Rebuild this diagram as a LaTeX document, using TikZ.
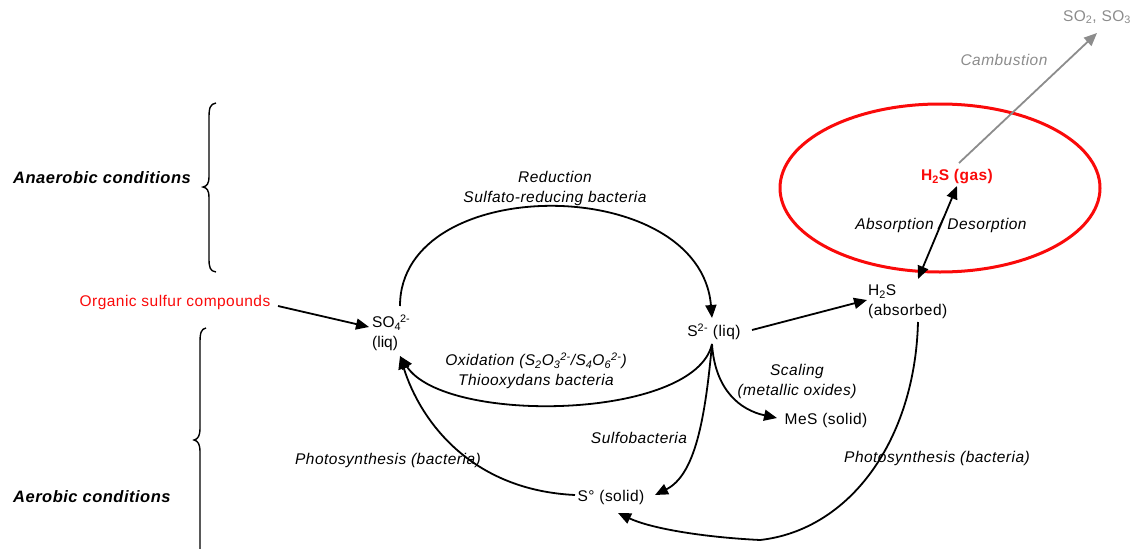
\documentclass[tikz,border=0pt]{standalone}
\usepackage{fontspec}
\setmainfont[LetterSpace=3]{Liberation Sans}
\usetikzlibrary{arrows.meta}
\definecolor{sred}{RGB}{250,10,10}
\definecolor{sgray}{RGB}{140,140,140}

\begin{document}
\begin{tikzpicture}[x=1pt,y=-1pt,
  txt/.style={inner sep=0pt, align=center, font=\fontsize{15.5}{20}\selectfont},
  itl/.style={txt, font=\fontsize{15.5}{20}\selectfont\itshape},
  cond/.style={txt, anchor=west, font=\fontsize{16.5}{20}\selectfont\bfseries\itshape},
  flow/.style={line width=1.8pt, -{Triangle[length=13pt,width=11pt]}},
  both/.style={line width=1.8pt, {Triangle[length=13pt,width=11pt]}-{Triangle[length=13pt,width=11pt]}},
  brace/.style={line width=1.4pt},
]
\useasboundingbox (0,0) rectangle (1136,549);

% condition labels and braces
\node[cond] (anaer) at (13,178) {Anaerobic conditions};
\node[cond] (aer) at (13,497) {Aerobic conditions};
\draw[brace] (216,103) .. controls (210,104) and (209,108) .. (209,118) -- (209,176)
  .. controls (209,184) and (207,186) .. (203,187) .. controls (207,188) and (209,190) .. (209,198)
  -- (209,258) .. controls (209,268) and (210,271) .. (216,272);
\draw[brace] (206,328) .. controls (201,329) and (200,333) .. (200,343) -- (200,428)
  .. controls (200,436) and (198,439) .. (194,440) .. controls (198,441) and (200,444) .. (200,452)
  -- (200,549);

% species
\node[txt, text=sred] (org) at (175,302) {Organic sulfur compounds};
\node[txt, align=left, anchor=west, font=\fontsize{15.5}{20}\selectfont\addfontfeature{LetterSpace=0}] (so4) at (372,333)
  {SO\textsubscript{4}\kern-1pt\textsuperscript{2-}\\(liq)};
\node[txt] (s2) at (714,332) {S\textsuperscript{2-} (liq)};
\node[txt, align=left, anchor=west] (h2sabs) at (868,302) {H\textsubscript{2}S\\(absorbed)};
\node[txt, text=sred, font=\fontsize{15.5}{20}\selectfont\bfseries] (h2sgas) at (957,177) {H\textsubscript{2}S (gas)};
\node[txt] (mes) at (826,420) {MeS (solid)};
\node[txt] (s0) at (611,497) {S° (solid)};
\node[txt, text=sgray] (so2) at (1097,17) {SO\textsubscript{2}, SO\textsubscript{3}};

% gas phase
\draw[sred, line width=3pt] (940,188) ellipse [x radius=160pt, y radius=84pt];

% process labels
\node[itl] (lred) at (555,188) {Reduction\\Sulfato-reducing bacteria};
\node[itl] (lox) at (536,371) {Oxidation (S\textsubscript{2}O\textsubscript{3}\textsuperscript{2-}/S\textsubscript{4}O\textsubscript{6}\textsuperscript{2-})\\Thiooxydans bacteria};
\node[itl] (lsulfo) at (639,438) {Sulfobacteria};
\node[itl] (lphl) at (388,460) {Photosynthesis (bacteria)};
\node[itl] (lphr) at (937,458) {Photosynthesis (bacteria)};
\node[itl] (lscal) at (797,381) {Scaling\\(metallic oxides)};
\node[itl] (labs) at (941,225) {Absorption / Desorption};
\node[itl, text=sgray] (lcomb) at (1004,60) {Cambustion};

% connector ends
\coordinate (orgout) at (278,306);
\coordinate (so4in) at (369,327);
\coordinate (so4top) at (400,306);
\coordinate (so4bot) at (400,356);
\coordinate (s2top) at (712,318);
\coordinate (s2bot) at (712,344);
\coordinate (s2out) at (752,330);
\coordinate (h2sin) at (867,300);
\coordinate (h2sbot) at (918,322);
\coordinate (h2stop) at (918,279);
\coordinate (gasbot) at (957,186);
\coordinate (gastop) at (959,163);
\coordinate (so2in) at (1097,33);
\coordinate (s0left) at (575,495);
\coordinate (s0right) at (655,495);
\coordinate (s0bot) at (618,513);
\coordinate (mesin) at (777,418);

% reactions
\draw[flow] (orgout) -- (so4in);
\draw[flow] (so4top) .. controls (400,172) and (700,173) .. (s2top);
\draw[flow] (s2bot) .. controls (695,420) and (445,425) .. (so4bot);
\draw[flow] (s0left) .. controls (470,490) and (420,420) .. (so4bot);
\draw[flow] (s2bot) .. controls (705,420) and (695,475) .. (s0right);
\draw[flow] (s2bot) .. controls (715,390) and (740,410) .. (mesin);
\draw[flow] (s2out) -- (h2sin);
\draw[flow] (h2sbot) .. controls (915,440) and (850,530) .. (760,540)
  .. controls (700,537) and (650,528) .. (s0bot);
\draw[both] (h2stop) -- (gasbot);
\draw[flow, sgray] (gastop) -- (so2in);
\end{tikzpicture}
\end{document}
